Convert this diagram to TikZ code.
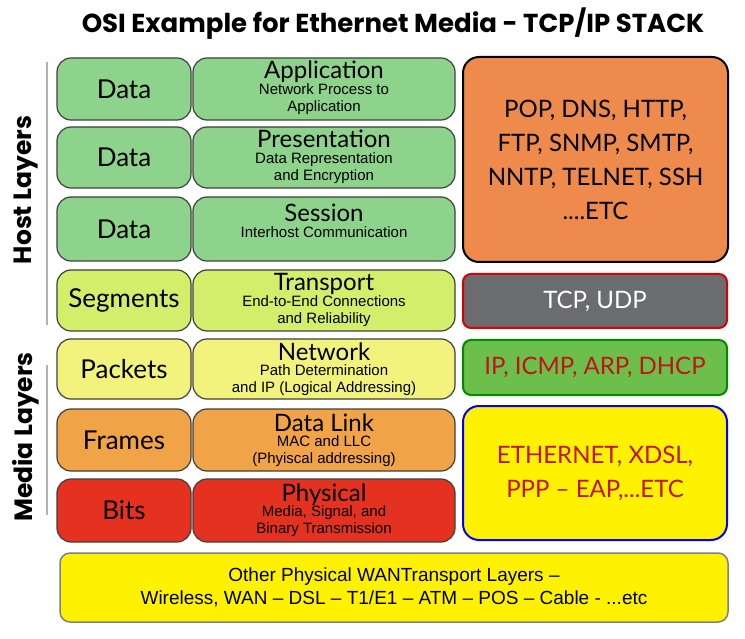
\documentclass[tikz,border=0pt]{standalone}
\usepackage{fontspec}
\setmainfont{Liberation Sans}
\newfontfamily\lat{Lato}
\newfontfamily\pop{Poppins}
\begin{document}
\begin{tikzpicture}[x=1pt,y=-1pt,
 lay/.style={draw=black!75,line width=1.2pt,rounded corners=14pt},
 rbox/.style={line width=2pt,rounded corners=16pt},
 big/.style={font=\lat\fontsize{26}{28}\selectfont},
 ttl/.style={font=\lat\fontsize{24}{24}\selectfont,inner sep=0pt,anchor=base},
 sub/.style={font=\fontsize{15}{17}\selectfont,align=center,inner sep=0pt,anchor=north},
 pr/.style={font=\lat\fontsize{24}{34}\selectfont,align=center}]
\fill[white] (0,0) rectangle (745,639);
\useasboundingbox (0,0) rectangle (745,639);
\node[font=\pop\bfseries\fontsize{26}{28}\selectfont] (title) at (393,24) {OSI Example for Ethernet Media - TCP/IP STACK};
\newcommand\layrow[8]{%
 \draw[lay,fill=#3] (57,#1) rectangle (191,#2) node[midway,big] (#7a) {#4};
 \draw[lay,fill=#3] (193,#1) rectangle (455,#2);
 \node[ttl] (#7b) at (324,{#1+#8}) {#5};
 \node[sub] (#7c) at ([yshift=-4pt]#7b.base) {#6};}
\definecolor{g1}{HTML}{8ED38C}\definecolor{g2}{HTML}{D3EE6A}\definecolor{y1}{HTML}{F2F37C}
\definecolor{o1}{HTML}{F0A347}\definecolor{r1}{HTML}{E5311F}\definecolor{o2}{HTML}{EE8A4B}
\definecolor{gr}{HTML}{6A6C6F}\definecolor{g3}{HTML}{6CBF4B}\definecolor{tr}{HTML}{C0141A}
\layrow{58}{120}{g1}{Data}{Application}{Network Process to\\Application}{r1}{21}
\layrow{127}{188}{g1}{Data}{Presentation}{Data Representation\\and Encryption}{r2}{21}
\layrow{197}{261}{g1}{Data}{Session}{Interhost Communication}{r3}{25}
\layrow{270}{331}{g2}{Segments}{Transport}{End-to-End Connections\\and Reliability}{r4}{21}
\layrow{339}{399}{y1}{Packets}{Network}{Path Determination\\and IP (Logical Addressing)}{r5}{21}
\layrow{409}{471}{o1}{Frames}{Data Link}{MAC and LLC\\(Phyiscal addressing)}{r6}{22}
\layrow{479}{542}{r1}{Bits}{Physical}{Media, Signal, and\\Binary Transmission}{r7}{22}
\draw[rbox,draw=black,fill=o2] (463,57) rectangle (728,262) node[midway,pr] (p1) {POP, DNS, HTTP,\\FTP, SNMP, SMTP,\\NNTP, TELNET, SSH\\....ETC};
\draw[rbox,draw=red!85!black,fill=gr,rounded corners=8pt] (463,274) rectangle (727,328) node[midway,pr,white] (p2) {TCP, UDP};
\draw[rbox,draw=green!55!black,fill=g3,rounded corners=8pt] (463,340) rectangle (727,395) node[midway,pr,tr] (p3) {IP, ICMP, ARP, DHCP};
\draw[rbox,draw=blue,fill=yellow] (463,406) rectangle (727,540) node[midway,pr,tr] (p4) {ETHERNET, XDSL,\\PPP – EAP,...ETC};
\draw[lay,draw=gray,line width=1.5pt,rounded corners=10pt,fill=yellow] (60,553) rectangle (728,622) node[midway,align=center,font=\fontsize{19}{23}\selectfont] (bot) {Other Physical WANTransport Layers –\\Wireless, WAN – DSL – T1/E1 – ATM – POS – Cable - ...etc};
\draw[gray!60,line width=2pt] (47,62) -- (47,325);
\draw[gray!60,line width=2pt] (47,365) -- (47,515);
\node[rotate=90,font=\pop\bfseries\fontsize{25}{26}\selectfont] (hl) at (26,190) {Host Layers};
\node[rotate=90,font=\pop\bfseries\fontsize{25}{26}\selectfont] (ml) at (26,437) {Media Layers};
\end{tikzpicture}
\end{document}
